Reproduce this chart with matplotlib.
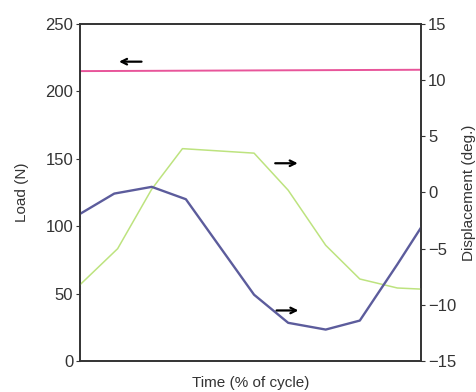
import matplotlib
matplotlib.use("Agg")
import matplotlib.pyplot as plt

plt.rcParams['font.family'] = ['Liberation Sans', 'DejaVu Sans']

# Load (left axis), roughly constant over the cycle
load_t = [0, 100]
load = [215, 216]

# Displacement curves (right axis)
blue_t = [0, 10, 21, 31, 51, 61, 72, 82, 93, 100]
blue_disp = [-1.9, -0.1, 0.5, -0.6, -9.1, -11.6, -12.2, -11.4, -6.4, -3.1]

green_t = [0, 11, 21, 30, 51, 61, 72, 82, 93, 100]
green_disp = [-8.2, -5.0, 0.3, 3.9, 3.5, 0.2, -4.7, -7.7, -8.5, -8.6]

fig = plt.figure(figsize=(4.77, 3.92), dpi=100)
ax = fig.add_axes([0.168, 0.079, 0.715, 0.86])
ax2 = ax.twinx()

ax.plot(load_t, load, color='#e8559a', lw=1.4)
ax2.plot(green_t, green_disp, color='#bde37f', lw=1.1)
ax2.plot(blue_t, blue_disp, color='#5c5c9c', lw=1.7)

ax.set_xlim(0, 100)
ax.set_ylim(0, 250)
ax2.set_ylim(-15, 15)
ax.set_yticks([0, 50, 100, 150, 200, 250])
ax2.set_yticks([-15, -10, -5, 0, 5, 10, 15])
ax.set_xticks([])

for a in (ax, ax2):
    for s in a.spines.values():
        s.set_color('#333333')
        s.set_linewidth(1.2)
    a.tick_params(axis='y', direction='out', length=3, width=0.8,
                  colors='#333333', labelsize=12, pad=2)

ax.set_xlabel('Time (% of cycle)', fontsize=11, color='#333333', labelpad=11)
ax.set_ylabel('Load (N)', fontsize=11, color='#333333', labelpad=12)
ax2.set_ylabel('Displacement (deg.)', fontsize=11, color='#333333', labelpad=4)

# arrows pointing to the axis each curve belongs to
arrow = dict(arrowstyle='->', color='black', lw=1.6, shrinkA=0, shrinkB=0)
ax.annotate('', xy=(11.4, 222), xytext=(18, 222), arrowprops=arrow)
ax2.annotate('', xy=(63.8, 2.6), xytext=(57.2, 2.6), arrowprops=arrow)
ax2.annotate('', xy=(64, -10.5), xytext=(57.6, -10.5), arrowprops=arrow)

fig.savefig('out.png', dpi=100)
